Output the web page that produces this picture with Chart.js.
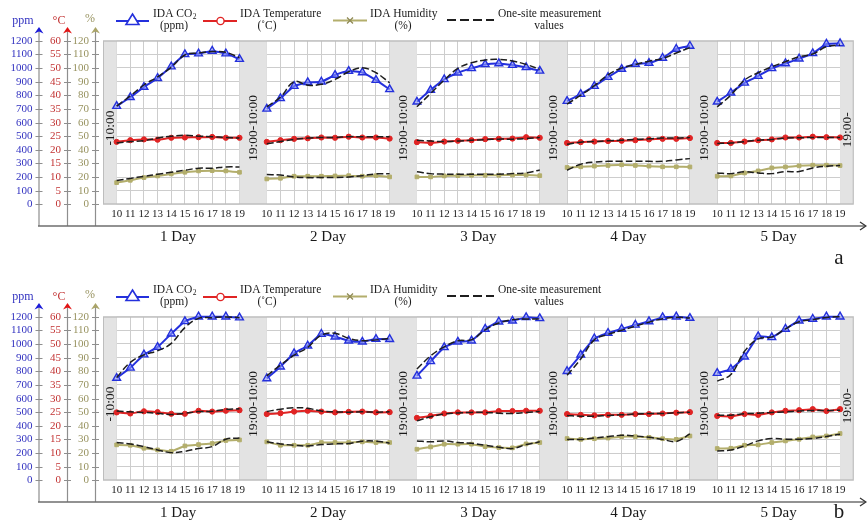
<!DOCTYPE html>
<html><head><meta charset="utf-8">
<script src="https://cdn.jsdelivr.net/npm/chart.js@4/dist/chart.umd.min.js"></script>
<style>
html,body{margin:0;padding:0;background:#fff;overflow:hidden;width:867px;height:522px;}
canvas{position:absolute;left:0;}
#ca{top:0}
#cb{top:276px}
</style></head><body>
<canvas id="ca" width="867" height="276"></canvas>
<canvas id="cb" width="867" height="246"></canvas>
<script>
// ---------------- data ----------------
const hours = ['10','11','12','13','14','15','16','17','18','19'];
const dayLabels = ['1 Day','2 Day','3 Day','4 Day','5 Day'];
const gapLabels = ['-10:00','19:00-10:00','19:00-10:00','19:00-10:00','19:00-10:00','19:00-'];
const ppmTicks = [0,100,200,300,400,500,600,700,800,900,1000,1100,1200];
const degTicks = [0,5,10,15,20,25,30,35,40,45,50,55,60];
const pctTicks = [0,10,20,30,40,50,60,70,80,90,100,110,120];

// panel a
const co2IdaA = [
  [720,785,860,925,1010,1100,1105,1125,1105,1065],
  [700,777,867,894,899,948,977,967,911,843],
  [752,838,916,965,997,1026,1033,1021,1004,979],
  [757,808,867,933,992,1029,1036,1073,1139,1161],
  [752,818,891,940,997,1033,1068,1107,1176,1180]
];
const co2MeasA = [
  [720,795,875,935,1005,1095,1110,1120,1115,1075],
  [715,786,899,874,880,916,972,1002,965,891],
  [715,813,911,997,1038,1058,1063,1051,1026,990],
  [735,800,870,950,1000,1025,1050,1070,1110,1150],
  [715,801,911,965,1009,1046,1082,1102,1156,1168]
];
const tempIdaA = [
  [22.9,23.5,23.8,23.7,24.4,24.5,24.6,24.7,24.4,24.4],
  [22.9,23.5,24.0,24.2,24.5,24.4,24.8,24.5,24.5,24.1],
  [22.8,22.5,23.0,23.3,23.5,23.9,24.0,24.1,24.6,24.4],
  [22.5,22.8,23.0,23.2,23.3,23.5,23.8,24.0,24.0,24.3],
  [22.5,22.5,23.0,23.5,23.8,24.5,24.5,24.8,24.6,24.5]
];
const tempMeasA = [
  [22.5,23.0,23.3,24.3,25.0,25.3,25.0,24.8,24.5,24.3],
  [22.2,23.0,23.8,24.3,24.5,24.5,24.8,24.8,24.8,24.8],
  [23.5,23.2,23.0,23.2,23.5,23.7,23.9,23.9,24.1,24.5],
  [22.0,22.8,23.0,23.3,23.5,23.8,24.0,24.3,24.3,24.5],
  [22.3,22.5,23.0,23.5,23.8,24.3,24.4,24.5,24.5,24.5]
];
const humIdaA = [
  [15.9,17.6,19.6,20.8,22.3,23.5,24.5,24.7,24.5,23.5],
  [18.6,19.1,20.6,20.6,20.6,20.8,21.0,20.6,21.0,20.1],
  [20.1,20.1,20.8,21.0,21.3,21.3,21.3,21.5,21.5,21.0],
  [27.0,27.5,28.0,28.5,29.0,28.5,28.0,27.5,27.5,27.4],
  [20.6,20.8,23.0,24.5,26.7,27.4,28.2,28.7,28.7,28.4]
];
const humMeasA = [
  [17.4,19.0,20.5,22.0,23.5,25.0,26.5,26.5,27.4,27.4],
  [21.8,21.5,20.0,19.6,19.6,19.6,20.0,21.0,22.3,22.5],
  [23.8,22.5,22.1,22.1,22.1,22.1,22.1,22.5,23.0,25.2],
  [25.0,29.4,31.0,31.5,31.5,31.5,31.5,31.5,32.5,33.5],
  [23.0,22.5,23.8,23.0,22.5,24.0,24.0,26.7,27.9,28.4]
];

// panel b
const co2IdaB = [
  [750,825,922,977,1075,1166,1200,1200,1200,1193],
  [747,833,931,987,1073,1053,1024,1016,1036,1035],
  [766,872,975,1016,1024,1110,1163,1170,1195,1188],
  [800,920,1040,1080,1110,1140,1165,1195,1200,1190],
  [786,816,906,1056,1048,1110,1170,1183,1200,1200]
];
const co2MeasB = [
  [754,865,920,950,1004,1120,1188,1193,1198,1193],
  [766,845,918,975,1065,1078,1041,1024,1030,1041],
  [816,913,979,1024,1031,1104,1154,1178,1183,1183],
  [770,890,1030,1070,1100,1130,1160,1185,1195,1190],
  [727,776,946,1037,1051,1110,1163,1178,1195,1200]
];
const tempIdaB = [
  [24.9,24.5,25.3,25.0,24.4,24.4,25.5,25.2,25.5,25.7],
  [24.3,24.6,25.2,25.5,25.2,24.9,25.1,25.2,24.9,25.0],
  [22.9,23.6,24.5,24.9,24.9,24.9,25.4,25.4,25.5,25.5],
  [24.3,24.0,23.8,24.0,24.0,24.3,24.3,24.5,24.8,25.0],
  [23.6,23.4,24.3,24.0,24.9,25.5,25.7,26.1,25.4,26.1]
];
const tempMeasB = [
  [25.4,25.1,24.9,24.6,24.1,24.6,25.2,25.3,26.0,26.2],
  [25.2,26.1,26.6,26.4,25.4,25.1,25.0,25.1,25.0,25.1],
  [21.8,23.3,24.3,24.7,24.9,24.9,24.6,24.5,24.9,25.2],
  [23.8,23.5,23.5,23.8,24.0,24.3,24.5,24.5,24.8,25.0],
  [23.9,23.9,24.4,24.6,24.9,25.1,25.4,25.6,25.6,25.7]
];
const humIdaB = [
  [26.0,25.7,23.5,22.3,21.3,25.2,26.2,27.0,29.2,29.6],
  [28.2,25.7,25.7,25.7,27.7,27.7,27.7,28.2,27.7,27.7],
  [22.8,24.5,26.5,26.5,26.5,24.7,24.0,23.8,26.7,27.7],
  [30.6,30.0,30.5,31.0,32.0,32.0,31.5,30.5,30.0,32.5],
  [23.3,23.5,25.7,26.0,27.7,28.9,30.1,31.8,32.5,34.3]
];
const humMeasB = [
  [27.7,26.7,24.7,22.3,20.3,21.3,23.3,24.7,30.1,31.0],
  [28.2,26.7,25.7,25.2,26.2,26.7,27.0,28.7,28.7,27.2],
  [28.9,28.2,28.9,27.7,27.2,25.7,24.3,23.3,26.2,28.2],
  [30.0,30.0,31.0,32.0,33.0,32.5,31.5,30.0,28.5,34.0],
  [21.5,22.3,25.2,28.9,30.6,30.1,30.1,30.6,32.1,33.8]
];

// ---------------- helpers ----------------
const FONT = '"Liberation Serif", "Times New Roman", serif';
Chart.defaults.font.family = FONT;
const BLUE = '#2430dc', RED = '#e02424', OLIVE = '#b3ae6c', DASH = '#1e1e1e';
const GRID = '#cdcdcd';

const dayStart = d => 1 + d * 11;
const XMAX = dayStart(4) + 10;
function series(days) {
  const out = [];
  days.forEach((vals, d) => {
    vals.forEach((v, h) => out.push({x: dayStart(d) + h, y: v}));
    if (d < days.length - 1) out.push({x: dayStart(d) + 10, y: null});
  });
  return out;
}
function hourLabel(v) {
  if (v < 1) return '';
  const d = Math.floor((v - 1) / 11), h = (v - 1) - d * 11;
  if (d > 4 || h > 9) return '';
  return hours[h];
}
function bands() {
  const b = [[0, 1]];
  for (let d = 1; d < 5; d++) b.push([dayStart(d - 1) + 9, dayStart(d)]);
  b.push([dayStart(4) + 9, XMAX]);
  return b;
}
function chevronUp(ctx, x, y, color) {
  ctx.fillStyle = color;
  ctx.beginPath();
  ctx.moveTo(x, y); ctx.lineTo(x + 4.5, y + 6.5); ctx.lineTo(x, y + 4.5); ctx.lineTo(x - 4.5, y + 6.5);
  ctx.closePath(); ctx.fill();
}

const deco = {
  id: 'deco',
  beforeDatasetsDraw(chart) {
    const {ctx, chartArea: a, scales: {x}} = chart;
    ctx.save();
    ctx.fillStyle = '#e3e3e3';
    bands().forEach(([s, e]) => {
      const x0 = x.getPixelForValue(s), x1 = x.getPixelForValue(e);
      ctx.fillRect(x0, a.top, x1 - x0, a.bottom - a.top);
    });
    ctx.strokeStyle = '#bdbdbd'; ctx.lineWidth = 1;
    ctx.strokeRect(a.left + 0.5, a.top + 0.5, a.right - a.left - 1, a.bottom - a.top - 1);
    ctx.fillStyle = '#1a1a1a';
    ctx.font = '13.5px ' + FONT;
    ctx.textAlign = 'center'; ctx.textBaseline = 'middle';
    bands().forEach(([s, e], i) => {
      const cx = x.getPixelForValue((s + e) / 2);
      const cy = i === 5 ? 130 : 128;
      ctx.save(); ctx.translate(cx + 0.5, cy); ctx.rotate(-Math.PI / 2);
      ctx.fillText(gapLabels[i], 0, 0); ctx.restore();
    });
    ctx.restore();
  },
  afterDraw(chart, args, opts) {
    const {ctx, scales} = chart;
    ctx.save();
    // left axes
    const defs = [
      {id: 'yp', x: 39, color: '#3232c0', arrow: '#1c1cd8', ticks: ppmTicks, title: 'ppm', tx: 23, ty: 20.5},
      {id: 'yt', x: 67.5, color: '#c23232', arrow: '#e21414', ticks: degTicks, title: '\u00B0C', tx: 59, ty: 20.5},
      {id: 'y', x: 95.5, color: '#989360', arrow: '#aaa468', ticks: pctTicks, title: '%', tx: 90, ty: 19}
    ];
    defs.forEach(dd => {
      const sc = scales[dd.id];
      ctx.strokeStyle = '#8e8e8e'; ctx.lineWidth = 1.2;
      ctx.beginPath(); ctx.moveTo(dd.x, 31); ctx.lineTo(dd.x, 226); ctx.stroke();
      chevronUp(ctx, dd.x, 27, dd.arrow);
      ctx.font = '11px ' + FONT; ctx.textAlign = 'right'; ctx.textBaseline = 'middle';
      dd.ticks.forEach(v => {
        const py = Math.round(sc.getPixelForValue(v)) + 0.5;
        ctx.strokeStyle = '#8e8e8e'; ctx.lineWidth = 1;
        ctx.beginPath(); ctx.moveTo(dd.x - 3.5, py); ctx.lineTo(dd.x + 3.5, py); ctx.stroke();
        ctx.fillStyle = dd.color;
        ctx.fillText(String(v), dd.x - 6.5, py);
      });
      ctx.fillStyle = dd.color; ctx.textAlign = 'center';
      ctx.font = '12px ' + FONT;
      ctx.fillText(dd.title, dd.tx, dd.ty);
    });
    // bottom axis
    ctx.strokeStyle = '#6e6e6e'; ctx.lineWidth = 1.6;
    ctx.beginPath(); ctx.moveTo(38, 226); ctx.lineTo(865, 226); ctx.stroke();
    ctx.strokeStyle = '#333'; ctx.lineWidth = 1.3;
    ctx.beginPath(); ctx.moveTo(860, 222); ctx.lineTo(866, 226); ctx.lineTo(860, 230); ctx.stroke();
    // day labels
    const x = scales.x;
    ctx.fillStyle = '#1a1a1a'; ctx.font = '15px ' + FONT; ctx.textAlign = 'center'; ctx.textBaseline = 'middle';
    dayLabels.forEach((t, d) => ctx.fillText(t, x.getPixelForValue(dayStart(d) + 4.5), 237));
    // panel letter
    ctx.font = '21px ' + FONT;
    ctx.fillText(opts.letter, 839, opts.letterY);
    // legend
    ctx.lineWidth = 2;
    ctx.strokeStyle = BLUE; ctx.beginPath(); ctx.moveTo(116, 21); ctx.lineTo(149, 21); ctx.stroke();
    ctx.fillStyle = '#fff'; ctx.lineWidth = 1.6;
    ctx.beginPath(); ctx.moveTo(132.5, 14); ctx.lineTo(139, 24.5); ctx.lineTo(126, 24.5); ctx.closePath(); ctx.fill(); ctx.stroke();
    ctx.lineWidth = 2; ctx.strokeStyle = RED;
    ctx.beginPath(); ctx.moveTo(203, 21); ctx.lineTo(237, 21); ctx.stroke();
    ctx.fillStyle = '#fff'; ctx.lineWidth = 1.4;
    ctx.beginPath(); ctx.arc(220.5, 21, 3.6, 0, Math.PI * 2); ctx.fill(); ctx.stroke();
    ctx.lineWidth = 2; ctx.strokeStyle = OLIVE;
    ctx.beginPath(); ctx.moveTo(333, 20.5); ctx.lineTo(367, 20.5); ctx.stroke();
    ctx.lineWidth = 1.3; ctx.strokeStyle = '#8f8a55';
    ctx.beginPath(); ctx.moveTo(347, 17.5); ctx.lineTo(353, 23.5); ctx.moveTo(353, 17.5); ctx.lineTo(347, 23.5); ctx.stroke();
    ctx.lineWidth = 1.8; ctx.strokeStyle = DASH; ctx.setLineDash([9, 4]);
    ctx.beginPath(); ctx.moveTo(447, 20); ctx.lineTo(494, 20); ctx.stroke(); ctx.setLineDash([]);
    ctx.fillStyle = '#1a1a1a'; ctx.font = '11.5px ' + FONT; ctx.textBaseline = 'middle';
    ctx.textAlign = 'left';
    ctx.fillText('IDA CO', 153, 14);
    const w = ctx.measureText('IDA CO').width;
    ctx.font = '7.5px ' + FONT; ctx.fillText('2', 153 + w + 0.5, 17);
    ctx.font = '11.5px ' + FONT;
    ctx.fillText('IDA Temperature', 240, 14);
    ctx.fillText('IDA Humidity', 370, 14);
    ctx.fillText('One-site measurement', 498, 14);
    ctx.textAlign = 'center';
    ctx.fillText('(ppm)', 174, 25.5);
    ctx.fillText('(\u02DAC)', 267, 26);
    ctx.fillText('(%)', 403, 25.5);
    ctx.fillText('values', 549, 26);
    ctx.restore();
  }
};

function makeChart(id, H, d, letter, letterY) {
  const common = {spanGaps: false, clip: false, fill: false};
  const datasets = [
    Object.assign({label: 'One-site CO2', data: series(d.co2M), yAxisID: 'yp', borderColor: DASH, borderWidth: 1.5, borderDash: [7, 3], pointRadius: 0, tension: 0.4}, common),
    Object.assign({label: 'One-site Temp', data: series(d.tM), yAxisID: 'yt', borderColor: DASH, borderWidth: 1.5, borderDash: [7, 3], pointRadius: 0, tension: 0.4}, common),
    Object.assign({label: 'One-site Hum', data: series(d.hM), yAxisID: 'y', borderColor: DASH, borderWidth: 1.5, borderDash: [7, 3], pointRadius: 0, tension: 0.4}, common),
    Object.assign({label: 'IDA CO2 (ppm)', data: series(d.co2I), yAxisID: 'yp', borderColor: BLUE, borderWidth: 2, pointStyle: 'triangle', pointRadius: 4.5, pointBorderWidth: 1.4, pointBackgroundColor: 'rgba(150,160,255,0.55)', pointBorderColor: BLUE, tension: 0.15}, common),
    Object.assign({label: 'IDA Temperature', data: series(d.tI), yAxisID: 'yt', borderColor: RED, borderWidth: 2, pointStyle: 'circle', pointRadius: 2.6, pointBackgroundColor: RED, pointBorderColor: RED, pointBorderWidth: 1, tension: 0.1}, common),
    Object.assign({label: 'IDA Humidity', data: series(d.hI), yAxisID: 'y', borderColor: OLIVE, borderWidth: 2, pointStyle: 'rect', pointRadius: 2.6, pointBackgroundColor: OLIVE, pointBorderColor: OLIVE, pointBorderWidth: 1, tension: 0.1}, common)
  ];
  return new Chart(document.getElementById(id), {
    type: 'line',
    data: {datasets},
    options: {
      responsive: false, animation: false, devicePixelRatio: 1,
      layout: {padding: {left: 103, right: 13.3, top: 40.7, bottom: H - 204.3 - 20}},
      plugins: {legend: {display: false}, tooltip: {enabled: false}, deco: {letter, letterY}},
      scales: {
        x: {
          type: 'linear', min: 0, max: XMAX,
          afterBuildTicks: s => { s.ticks = Array.from({length: XMAX + 1}, (_, i) => ({value: i})); },
          ticks: {autoSkip: false, maxRotation: 0, padding: 3, color: '#222', font: {size: 11}, callback: v => hourLabel(v)},
          grid: {color: GRID, drawTicks: false, lineWidth: 1},
          border: {display: false},
          afterFit: s => { s.height = 20; }
        },
        y: {
          type: 'linear', position: 'left', min: 0, max: 120,
          afterBuildTicks: s => { s.ticks = pctTicks.map(v => ({value: v})); },
          ticks: {display: false}, grid: {color: GRID, drawTicks: false}, border: {display: false},
          afterFit: s => { s.width = 0; }
        },
        yp: {type: 'linear', position: 'left', min: 0, max: 1200, display: false},
        yt: {type: 'linear', position: 'left', min: 0, max: 60, display: false}
      }
    },
    plugins: [deco]
  });
}

makeChart('ca', 276, {co2I: co2IdaA, co2M: co2MeasA, tI: tempIdaA, tM: tempMeasA, hI: humIdaA, hM: humMeasA}, 'a', 258);
makeChart('cb', 246, {co2I: co2IdaB, co2M: co2MeasB, tI: tempIdaB, tM: tempMeasB, hI: humIdaB, hM: humMeasB}, 'b', 236);
</script>
</body></html>
